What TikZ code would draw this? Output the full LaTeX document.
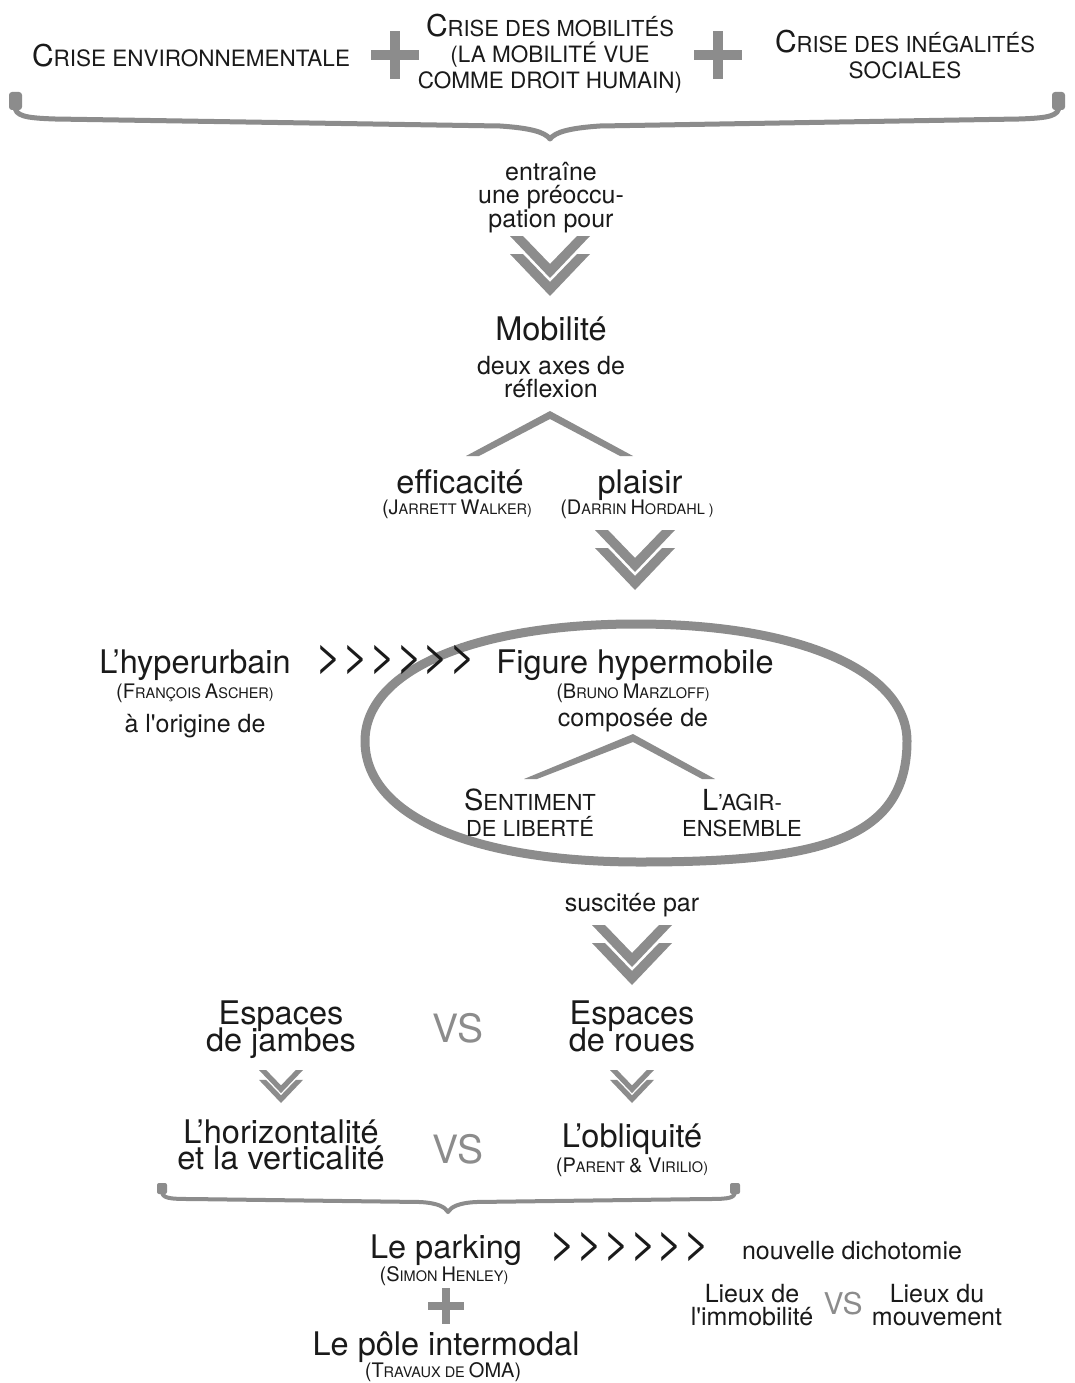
\documentclass[tikz,border=0pt]{standalone}
\usepackage{fontspec}
\setmainfont{TeX Gyre Heros}
\definecolor{ink}{HTML}{1A1A1A}
\definecolor{grayc}{HTML}{8C8C8C}
\newcommand\fz[2]{{\fontsize{#1}{#1}\selectfont #2}}
\newcommand\dchev[3]{%
  \begin{scope}[shift={(#1,#2)},scale=#3]
    \fill[grayc] (-40,0)--(-27,0)--(0,28)--(27,0)--(40,0)--(0,42)--cycle;
    \fill[grayc] (-40,18)--(-27,18)--(0,46)--(27,18)--(40,18)--(0,60)--cycle;
  \end{scope}}
\begin{document}
\begin{tikzpicture}[x=1pt,y=-1pt,
  txt/.style={inner sep=0pt, anchor=base, text=ink},
  big/.style={txt, font=\fontsize{32.5}{32.5}\selectfont},
  mid/.style={txt, font=\fontsize{25}{25}\selectfont},
  vstxt/.style={inner sep=0pt, anchor=base, text=grayc, font=\fontsize{39}{39}\selectfont},
  arrtxt/.style={inner sep=0pt, anchor=center, text=ink, font=\fontsize{46}{46}\selectfont},
  bracestroke/.style={draw=grayc, line width=5pt, line join=round},
  caretshape/.style={fill=grayc, draw=none}]
\useasboundingbox (0,0) rectangle (1074,1383);
\fill[white] (0,0) rectangle (1074,1383);

% ---- top row
\node[txt] (t1) at (191,67) {\fz{30}{C}\fz{22.5}{RISE ENVIRONNEMENTALE}};
\node[txt] (m1) at (550,37) {\fz{30}{C}\fz{22}{RISE DES MOBILITÉS}};
\node[txt] (m2) at (550,63) {\fz{22.5}{(LA MOBILITÉ VUE}};
\node[txt] (m3) at (550,89) {\fz{22.5}{COMME DROIT HUMAIN)}};
\node[txt] (r1) at (905,53) {\fz{30}{C}\fz{22}{RISE DES INÉGALITÉS}};
\node[txt] (r2) at (905,79) {\fz{22.5}{SOCIALES}};
% plus signs
\fill[grayc] (371,50) rectangle (419,60);
\fill[grayc] (390,31) rectangle (400,79);
\fill[grayc] (694,50) rectangle (742,60);
\fill[grayc] (713,31) rectangle (723,79);

% ---- top brace
\draw[bracestroke] (15,94) -- (15,106) .. controls (15,116) and (25,118) .. (55,119)
  -- (500,126) .. controls (530,128) and (545,132) .. (550,139)
  .. controls (555,132) and (570,128) .. (600,126)
  -- (1019,119) .. controls (1049,118) and (1059,116) .. (1059,106) -- (1059,94);
\fill[grayc, rounded corners=3pt] (9,92) rectangle (22,110);
\fill[grayc, rounded corners=3pt] (1052,92) rectangle (1065,110);

% ---- entraîne
\node[mid] (e1) at (551,181) {entraîne};
\node[mid] (e2) at (551,204) {une préoccu-};
\node[mid] (e3) at (551,227) {pation pour};
\dchev{550}{236}{1}

\node[big] (mob) at (551,340) {Mobilité};
\node[mid] (d1) at (551,374) {deux axes de};
\node[mid] (d2) at (551,397) {réflexion};
\fill[caretshape] (466,456) -- (550,411) -- (633,456) -- (620,456) -- (550,419) -- (479,456) -- cycle;

\node[big] (eff) at (460,493) {efficacité};
\node[txt] (effa) at (457,514) {\fz{20}{(J}\fz{14.5}{ARRETT }\fz{20}{W}\fz{14.5}{ALKER)}};
\node[big] (pla) at (640,493) {plaisir};
\node[txt] (plaa) at (637,514) {\fz{20}{(D}\fz{14.5}{ARRIN }\fz{20}{H}\fz{14.5}{ORDAHL )}};
\dchev{635}{530}{1}

% ---- hyperurbain / figure hypermobile
\draw[grayc, line width=9pt] (907,741) .. controls (907,840) and (820,862) .. (640,862)
  .. controls (470,862) and (365,815) .. (365,741)
  .. controls (365,671) and (473,624) .. (636,624)
  .. controls (799,624) and (907,671) .. (907,741) -- cycle;
\node[big] (hyp) at (195,673) {L’hyperurbain};
\node[txt] (hypa) at (195,698) {\fz{20}{(F}\fz{14.5}{RANÇOIS }\fz{20}{A}\fz{14.5}{SCHER)}};
\node[mid] (orig) at (195,732) {à l\textquotesingle origine de};
\node[arrtxt] (arr1) at (396,660) {>{}>{}>{}>{}>{}>};
\node[big] (fig) at (635,673) {Figure hypermobile};
\node[txt] (figa) at (633,698) {\fz{20}{(B}\fz{14.5}{RUNO }\fz{20}{M}\fz{14.5}{ARZLOFF)}};
\node[mid] (comp) at (633,726) {composée de};
\fill[caretshape] (524,779) -- (633,734) -- (715,779) -- (702,779) -- (633,742) -- (537,779) -- cycle;
\node[txt] (sen1) at (530,810) {\fz{29}{S}\fz{22}{ENTIMENT}};
\node[txt] (sen2) at (530,836) {\fz{22}{DE LIBERTÉ}};
\node[txt] (agi1) at (742,810) {\fz{29}{L}\fz{22}{’AGIR-}};
\node[txt] (agi2) at (742,836) {\fz{22}{ENSEMBLE}};

\node[mid] (sus) at (632,911) {suscitée par};
\dchev{632}{925}{1}

% ---- espaces
\node[big] (esp1a) at (281,1024) {Espaces};
\node[big] (esp1b) at (281,1051) {de jambes};
\node[vstxt] (vs1) at (458,1042) {VS};
\node[big] (esp2a) at (632,1024) {Espaces};
\node[big] (esp2b) at (632,1051) {de roues};
\dchev{281}{1070}{0.55}
\dchev{632}{1070}{0.55}

\node[big] (hor1) at (281,1143) {L’horizontalité};
\node[big] (hor2) at (281,1169) {et la verticalité};
\node[vstxt] (vs2) at (458,1163) {VS};
\node[big] (obl) at (632,1147) {L’obliquité};
\node[txt] (obla) at (632,1172) {\fz{20}{(P}\fz{14.5}{ARENT }\fz{20}{\& V}\fz{14.5}{IRILIO)}};

% ---- bottom brace
\draw[bracestroke, line width=4pt] (162,1185) -- (162,1191) .. controls (162,1198) and (168,1199) .. (190,1199)
  -- (420,1202) .. controls (438,1203) and (445,1207) .. (448,1212)
  .. controls (451,1207) and (458,1203) .. (476,1202)
  -- (708,1199) .. controls (730,1199) and (735,1198) .. (735,1191) -- (735,1185);
\fill[grayc, rounded corners=2pt] (157,1183) rectangle (167,1194);
\fill[grayc, rounded corners=2pt] (730,1183) rectangle (740,1194);

% ---- bottom
\node[big] (park) at (446,1258) {Le parking};
\node[txt] (parka) at (444,1281) {\fz{20}{(S}\fz{14.5}{IMON }\fz{20}{H}\fz{14.5}{ENLEY)}};
\node[arrtxt] (arr2) at (630,1247) {>{}>{}>{}>{}>{}>};
\node[mid] (nouv) at (852,1259) {nouvelle dichotomie};
\fill[grayc] (428,1302) rectangle (464,1310);
\fill[grayc] (442,1288) rectangle (450,1324);
\node[big] (pole) at (446,1355) {Le pôle intermodal};
\node[txt] (polea) at (443,1377) {\fz{20}{(T}\fz{14.5}{RAVAUX DE }\fz{20}{OMA)}};
\node[mid] (l1a) at (752,1302) {Lieux de};
\node[mid] (l1b) at (752,1325) {l\textquotesingle immobilité};
\node[vstxt, font=\fontsize{30}{30}\selectfont] (vs3) at (843,1314) {VS};
\node[mid] (l2a) at (937,1302) {Lieux du};
\node[mid] (l2b) at (937,1325) {mouvement};
\end{tikzpicture}
\end{document}
